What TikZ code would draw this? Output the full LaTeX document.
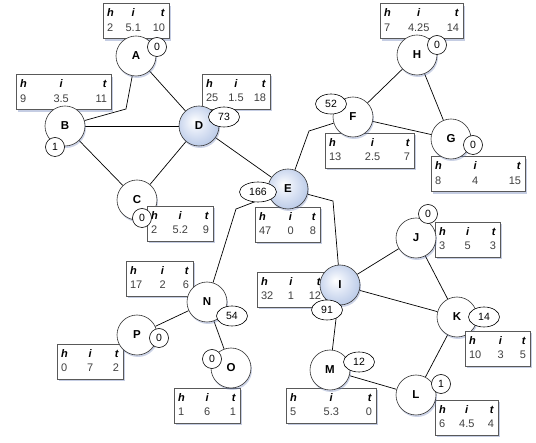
\documentclass[tikz,border=0pt]{standalone}
\usepackage{fontspec}
\setmainfont{Liberation Sans}
\usetikzlibrary{shapes.geometric,shadows}
\pgfdeclarelayer{background}
\pgfsetlayers{background,main}
\definecolor{shad}{RGB}{110,130,185}
\definecolor{bluenode}{RGB}{150,174,218}
\definecolor{bluelight}{RGB}{225,232,246}
\pgfdeclareradialshading{wball}{\pgfpoint{-6bp}{6bp}}{color(0bp)=(white); color(26bp)=(white); color(46bp)=(black!13); color(50bp)=(black!13)}
\pgfdeclareradialshading{bball}{\pgfpoint{-6bp}{6bp}}{color(0bp)=(white); color(12bp)=(bluelight); color(44bp)=(bluenode); color(50bp)=(bluenode)}
\tikzset{
 vtx/.style={circle, minimum size=40pt, inner sep=0pt, draw=black!80, line width=0.6pt,
   shading=wball, font=\fontsize{11.5}{13}\selectfont\bfseries,
   drop shadow={shadow xshift=1pt, shadow yshift=-2pt, fill=shad, opacity=0.35}},
 bvtx/.style={vtx, shading=bball},
 tbl/.style={rectangle, draw=black!65, line width=0.8pt, fill=white, inner xsep=4pt, inner ysep=1pt,
   minimum height=35pt, font=\fontsize{11}{12}\selectfont,
   drop shadow={shadow xshift=1.5pt, shadow yshift=-2.5pt, fill=shad, opacity=0.4}},
 badge/.style={ellipse, draw=black, line width=0.6pt, fill=white, inner sep=0pt,
   minimum height=19pt, minimum width=19pt, font=\fontsize{10.5}{12}\selectfont},
 wbadge/.style={badge, minimum width=31pt, minimum height=20pt},
 wwbadge/.style={badge, minimum width=37pt, minimum height=20pt},
 edgeline/.style={draw=black, line width=0.7pt}
}
\newcommand{\mytabhd}[1]{\textbf{\textit{#1}}}
\newcommand{\mytab}[7]{\node[tbl, minimum width=#4pt] (#1) at (#2,#3) {\renewcommand{\arraystretch}{1.2}\begin{tabular*}{\dimexpr#4pt-8pt\relax}{@{}l@{\extracolsep{\fill}}c@{\extracolsep{\fill}}r@{}}\mytabhd{h}&\mytabhd{i}&\mytabhd{t}\\\color{black!75}#5&\color{black!75}#6&\color{black!75}#7\end{tabular*}};}
\begin{document}
\begin{tikzpicture}[x=1pt,y=-1pt]
\useasboundingbox (0,0) rectangle (536,443);
% tables (below circles)
\mytab{tA}{136}{21}{66}{2}{5.1}{10}
\mytab{tB}{63.5}{92}{95}{9}{3.5}{11}
\mytab{tD}{236}{91.5}{68}{25}{1.5}{18}
\mytab{tE}{287.5}{224.5}{65}{47}{0}{8}
\mytab{tF}{369.5}{150.5}{89}{13}{2.5}{7}
\mytab{tH}{421.5}{21}{83}{7}{4.25}{14}
\mytab{tG}{478}{174}{94}{8}{4}{15}
\mytab{tJ}{467.5}{239.5}{65}{3}{5}{3}
\mytab{tI}{291}{289.5}{68}{32}{1}{12}
\mytab{tM}{331}{405.5}{90}{5}{5.3}{0}
\mytab{tL}{466.5}{417.5}{63}{6}{4.5}{4}
\mytab{tN}{159.5}{278.5}{67}{17}{2}{6}
\mytab{tP}{90}{361.5}{66}{0}{7}{2}
\mytab{tO}{207}{405.5}{66}{1}{6}{1}
% circles
\node[vtx]  (A) at (136,56)  {A};
\node[vtx]  (B) at (65,126)  {B};
\node[vtx]  (C) at (137,200) {C};
\node[bvtx] (D) at (199,126) {D};
\node[bvtx] (E) at (288,189) {E};
\node[vtx]  (F) at (353,117) {F};
\node[vtx]  (G) at (451,139) {G};
\node[vtx]  (H) at (417,55)  {H};
\node[bvtx] (I) at (340,285) {I};
\node[vtx]  (J) at (416,238) {J};
\node[vtx]  (K) at (457,317) {K};
\node[vtx]  (L) at (416,395) {L};
\node[vtx]  (M) at (330,370) {M};
\node[vtx]  (N) at (207,302) {N};
\node[vtx]  (O) at (231,368) {O};
\node[vtx]  (P) at (137,335) {P};
% tables above their circles
\mytab{tC}{180}{223.5}{66}{2}{5.2}{9}
\mytab{tK}{497.5}{348.5}{65}{10}{3}{5}
% badges
\node[badge]   (bA) at (157,47)  {0};
\node[badge]   (bB) at (55,147)  {1};
\node[badge]   (bC) at (142,218) {0};
\node[wbadge]  (bD) at (224,117) {73};
\node[wwbadge] (bE) at (258,192) {166};
\node[wbadge]  (bF) at (331,104) {52};
\node[badge]   (bG) at (473,145) {0};
\node[badge]   (bH) at (437,45)  {0};
\node[wbadge]  (bI) at (327,310) {91};
\node[badge]   (bJ) at (428,214) {0};
\node[wbadge]  (bK) at (484,317) {14};
\node[badge]   (bL) at (441,384) {1};
\node[wbadge]  (bM) at (359,362) {12};
\node[wbadge]  (bN) at (232,316) {54};
\node[badge]   (bO) at (212,359) {0};
\node[badge]   (bP) at (159,338) {0};
% bend points
\coordinate (ab) at (126,109);
\coordinate (ef) at (309,131);
\coordinate (ei) at (333,201);
\coordinate (en) at (236,209);
\begin{pgfonlayer}{background}
\draw[edgeline] (A) -- (ab) -- (B);
\draw[edgeline] (A) -- (D);
\draw[edgeline] (B) -- (D);
\draw[edgeline] (B) -- (C);
\draw[edgeline] (C) -- (D);
\draw[edgeline] (D) -- (E);
\draw[edgeline] (E) -- (ef) -- (F);
\draw[edgeline] (E.center) -- (en) -- (N);
\draw[edgeline] (E) -- (ei) -- (I);
\draw[edgeline] (F) -- (H);
\draw[edgeline] (F) -- (G);
\draw[edgeline] (H) -- (G);
\draw[edgeline] (I) -- (J);
\draw[edgeline] (I) -- (K);
\draw[edgeline] (J) -- (K);
\draw[edgeline] (K) -- (L);
\draw[edgeline] (I) -- (M);
\draw[edgeline] (M) -- (L);
\draw[edgeline] (N) -- (P);
\draw[edgeline] (N) -- (O);
\end{pgfonlayer}
\end{tikzpicture}
\end{document}
